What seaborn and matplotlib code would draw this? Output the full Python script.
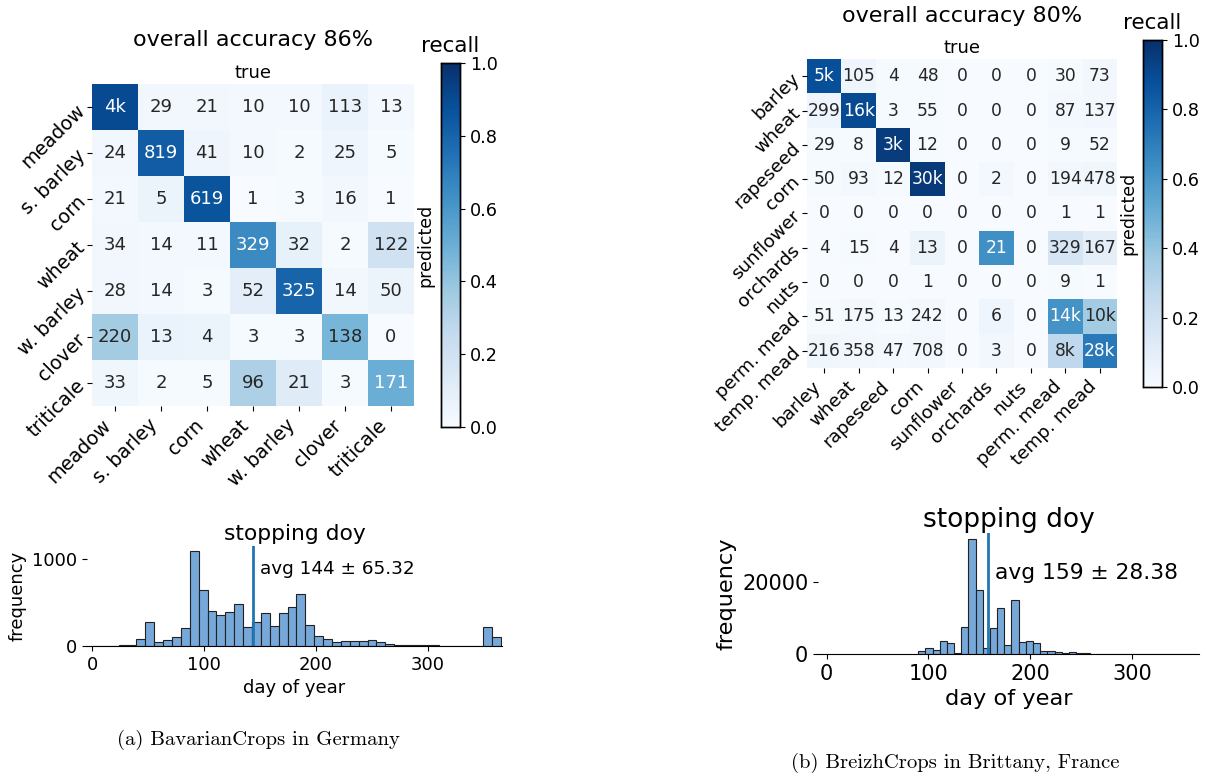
import matplotlib
matplotlib.use('Agg')
import matplotlib.pyplot as plt
import numpy as np
import pandas as pd
import seaborn as sns

# ---- data ----
bav_classes = ['meadow', 's. barley', 'corn', 'wheat', 'w. barley', 'clover', 'triticale']
bav_counts = [
    [4000, 29, 21, 10, 10, 113, 13],
    [24, 819, 41, 10, 2, 25, 5],
    [21, 5, 619, 1, 3, 16, 1],
    [34, 14, 11, 329, 32, 2, 122],
    [28, 14, 3, 52, 325, 14, 50],
    [220, 13, 4, 3, 3, 138, 0],
    [33, 2, 5, 96, 21, 3, 171],
]
bav_recall = [
    [0.90, 0.03, 0.03, 0.02, 0.02, 0.07, 0.02],
    [0.03, 0.83, 0.05, 0.02, 0.01, 0.05, 0.01],
    [0.02, 0.06, 0.86, 0.00, 0.01, 0.03, 0.00],
    [0.03, 0.02, 0.02, 0.65, 0.08, 0.01, 0.20],
    [0.03, 0.02, 0.01, 0.10, 0.80, 0.03, 0.06],
    [0.36, 0.07, 0.06, 0.01, 0.01, 0.47, 0.00],
    [0.04, 0.01, 0.01, 0.33, 0.12, 0.01, 0.50],
]
bav_accuracy = 86

brz_classes = ['barley', 'wheat', 'rapeseed', 'corn', 'sunflower', 'orchards', 'nuts',
               'perm. mead', 'temp. mead']
brz_counts = [
    [5000, 105, 4, 48, 0, 0, 0, 30, 73],
    [299, 16000, 3, 55, 0, 0, 0, 87, 137],
    [29, 8, 3000, 12, 0, 0, 0, 9, 52],
    [50, 93, 12, 30000, 0, 2, 0, 194, 478],
    [0, 0, 0, 0, 0, 0, 0, 1, 1],
    [4, 15, 4, 13, 0, 21, 0, 329, 167],
    [0, 0, 0, 1, 0, 0, 0, 9, 1],
    [51, 175, 13, 242, 0, 6, 0, 14000, 10000],
    [216, 358, 47, 708, 0, 3, 0, 8000, 28000],
]
brz_recall = [
    [0.88, 0.05, 0.01, 0.01, 0.00, 0.00, 0.00, 0.01, 0.03],
    [0.05, 0.90, 0.01, 0.01, 0.00, 0.00, 0.00, 0.02, 0.03],
    [0.01, 0.01, 0.95, 0.01, 0.00, 0.00, 0.00, 0.01, 0.01],
    [0.01, 0.02, 0.01, 0.96, 0.00, 0.02, 0.00, 0.03, 0.04],
    [0.00, 0.00, 0.00, 0.00, 0.00, 0.00, 0.00, 0.00, 0.00],
    [0.00, 0.01, 0.00, 0.06, 0.00, 0.63, 0.00, 0.17, 0.10],
    [0.00, 0.00, 0.00, 0.00, 0.00, 0.00, 0.00, 0.01, 0.00],
    [0.01, 0.02, 0.01, 0.02, 0.00, 0.05, 0.00, 0.62, 0.36],
    [0.04, 0.03, 0.02, 0.03, 0.00, 0.03, 0.00, 0.27, 0.72],
]
brz_accuracy = 80

# stopping day histograms (counts per bin)
bav_bin_edges = np.linspace(0, 365, 47)
bav_hist_counts = [3, 2, 4, 6, 10, 77, 273, 42, 65, 100, 208, 1096, 642, 404, 362, 396,
                   481, 223, 277, 377, 235, 385, 446, 596, 238, 112, 85, 42, 62, 54, 54,
                   69, 42, 23, 12, 8, 6, 7, 6, 5, 5, 4, 4, 4, 223, 104]
bav_avg, bav_std = 144, 65.32

brz_bin_edges = np.linspace(90, 365, 40)
brz_hist_counts = [740, 1570, 1200, 3690, 2950, 370, 7370, 31700, 17800, 1570, 7280,
                   12800, 2400, 15000, 3300, 3500, 3130, 920, 740, 460, 280, 460, 150,
                   250, 120, 80, 100, 90, 60, 30, 20, 15, 10, 8, 5, 5, 3, 3, 2]
brz_avg, brz_std = 159, 28.38

W, H = 1210, 776
fig = plt.figure(figsize=(W / 100, H / 100), dpi=100)


def box(x0, y0, x1, y1):
    return [x0 / W, 1 - y1 / H, (x1 - x0) / W, (y1 - y0) / H]


def fmt_count(v):
    return f'{round(v / 1000)}k' if v >= 1000 else str(v)


def confusion(ax, cax, classes, counts, recall, acc, annot_size, tick_size):
    df = pd.DataFrame(recall, index=classes, columns=classes)
    labels = np.array([[fmt_count(v) for v in row] for row in counts])
    sns.heatmap(df, ax=ax, cbar_ax=cax, cmap='Blues', vmin=0, vmax=1, annot=labels,
                fmt='', annot_kws={'fontsize': annot_size}, square=False)
    ax.set_xticklabels(classes, rotation=45, ha='right', fontsize=tick_size)
    ax.set_yticklabels(classes, rotation=45, ha='right', va='center',
                       rotation_mode='anchor', fontsize=tick_size)
    ax.tick_params(length=3.5, width=0.8)
    ax.xaxis.set_label_position('top')
    ax.set_xlabel('true', fontsize=13, labelpad=4)
    ax.yaxis.set_label_position('right')
    ax.set_ylabel('predicted', fontsize=12.5, labelpad=2)
    ax.set_title(f'overall accuracy {acc}%', fontsize=16, pad=27)
    cax.set_title('recall', fontsize=15.5, pad=8)
    cax.tick_params(labelsize=12.7)
    cax.set_yticks([0, 0.2, 0.4, 0.6, 0.8, 1.0])
    cax.yaxis.set_major_formatter(matplotlib.ticker.FormatStrFormatter('%.1f'))
    for s in cax.spines.values():
        s.set_visible(True)
        s.set_color('black')
        s.set_linewidth(1)


def stopping(ax, edges, counts, avg, std, xlim, ylim, yticks, text_y, text_x,
             title_size, label_size, tick_size, text_size):
    df = pd.DataFrame({'day': (edges[:-1] + edges[1:]) / 2, 'n': counts})
    sns.histplot(data=df, x='day', weights='n', bins=list(edges), ax=ax, color='#6fa3d8',
                 alpha=0.95, edgecolor='#222222', linewidth=0.8)
    ax.axvline(avg, color='#1f77b4', lw=2)
    ax.text(text_x, text_y, f'avg {avg} ± {std:.2f}', fontsize=text_size, va='center')
    ax.set_xlim(*xlim)
    ax.set_ylim(*ylim)
    ax.set_yticks(yticks)
    ax.set_xticks([0, 100, 200, 300])
    ax.tick_params(labelsize=tick_size)
    ax.set_title('stopping doy', fontsize=title_size, pad=4)
    ax.set_xlabel('day of year', fontsize=label_size)
    ax.set_ylabel('frequency', fontsize=label_size)
    sns.despine(ax=ax, left=True)


# BavarianCrops
ax1 = fig.add_axes(box(92, 84, 414, 406))
cax1 = fig.add_axes(box(441, 63, 460, 427))
confusion(ax1, cax1, bav_classes, bav_counts, bav_recall, bav_accuracy, 13, 13.8)

h1 = fig.add_axes(box(87, 546, 502, 646))
stopping(h1, bav_bin_edges, bav_hist_counts, bav_avg, bav_std, (-4.5, 366), (0, 1153),
         [0, 1000], 888, 150, 15.7, 13, 13, 13.2)

# BreizhCrops
ax2 = fig.add_axes(box(807, 59, 1117, 368))
cax2 = fig.add_axes(box(1143, 40, 1162, 387))
confusion(ax2, cax2, brz_classes, brz_counts, brz_recall, brz_accuracy, 12.3, 13.2)

h2 = fig.add_axes(box(818, 533, 1199, 654))
stopping(h2, brz_bin_edges, brz_hist_counts, brz_avg, brz_std, (-8.5, 366), (0, 33470),
         [0, 20000], 22400, 165, 19, 16.2, 15, 15.7)

fig.text(258 / W, 1 - 740 / H, '(a) BavarianCrops in Germany', family='cmr10',
         fontsize=14.9, ha='center', va='center')
fig.text(955 / W, 1 - 763 / H, '(b) BreizhCrops in Brittany, France', family='cmr10',
         fontsize=14.9, ha='center', va='center')

fig.savefig('out.png', dpi=100)
